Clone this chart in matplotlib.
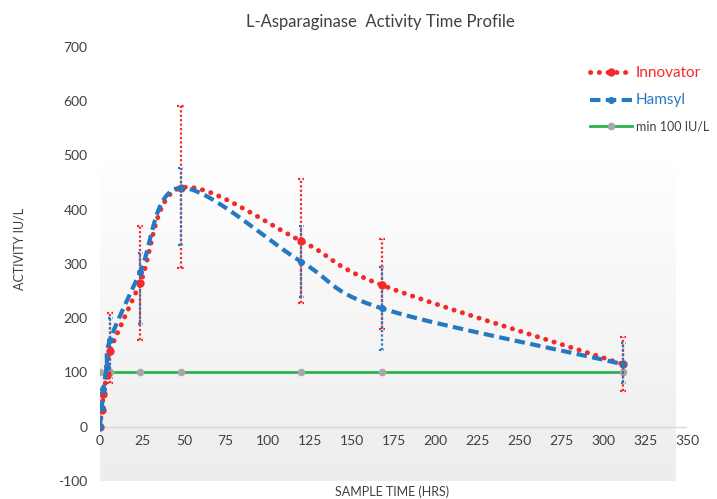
import matplotlib
matplotlib.use("Agg")
import matplotlib.pyplot as plt
import numpy as np
from matplotlib.colors import LinearSegmentedColormap
from matplotlib.lines import Line2D

plt.rcParams["font.family"] = ["Lato", "DejaVu Sans"]
plt.rcParams["axes.unicode_minus"] = False

# data
hours = [0, 1, 2, 4, 6, 24, 48, 120, 168, 312]
innovator = [0, 30, 60, 95, 140, 265, 440, 342, 261, 115]
hamsyl = [0, 35, 70, 110, 160, 285, 440, 304, 218, 115]

err_hours = [6, 24, 48, 120, 168, 312]
innov_lo = [80, 160, 293, 228, 180, 65]
innov_hi = [210, 370, 590, 456, 345, 165]
hams_lo = [90, 190, 335, 239, 141, 80]
hams_hi = [200, 320, 477, 370, 295, 155]

min_hours = [0, 6, 24, 48, 120, 168, 312]
min_level = [100, 100, 100, 100, 100, 100, 100]

RED = "#f42a2a"
BLUE = "#2479c2"
GREEN = "#2bb24c"
GREY = "#a8a8a8"
TXT = "#404040"


def smooth(xs, ys, n=30):
    """Catmull-Rom through the points, roughly what Excel's smoothed line does."""
    xs = np.asarray(xs, float) / 350.0
    ys = np.asarray(ys, float) / 800.0
    p = np.column_stack([xs, ys])
    p = np.vstack([p[0] * 2 - p[1], p, p[-1] * 2 - p[-2]])
    out = []
    for i in range(1, len(p) - 2):
        p0, p1, p2, p3 = p[i - 1], p[i], p[i + 1], p[i + 2]
        t = np.linspace(0, 1, n)[:, None]
        seg = 0.5 * ((2 * p1) + (-p0 + p2) * t
                     + (2 * p0 - 5 * p1 + 4 * p2 - p3) * t ** 2
                     + (-p0 + 3 * p1 - 3 * p2 + p3) * t ** 3)
        out.append(seg)
    out = np.vstack(out)
    return out[:, 0] * 350.0, out[:, 1] * 800.0


fig = plt.figure(figsize=(7.17, 4.99), dpi=100)
ax = fig.add_axes([100 / 717, 18 / 499, 587 / 717, 434.3 / 499])
ax.set_xlim(0, 350)
ax.set_ylim(-100, 700)

# plot area: white at the top fading to light grey
grad = np.linspace(1, 0, 256)[:, None]
grad = np.clip(grad / 0.75, 0, 1)
bg = LinearSegmentedColormap.from_list("bg", ["#ededed", "#ffffff"])
ax.imshow(grad, extent=[0, 343, -100, 700], aspect="auto", cmap=bg,
          vmin=0, vmax=1, zorder=0, origin="upper")

ax.axhline(0, color="#d9d9d9", lw=1, zorder=1)

# min line
ax.plot(min_hours, min_level, color=GREEN, lw=2, marker="o", ms=4.5,
        mfc=GREY, mec=GREY, zorder=2)

# error bars
for x, lo, hi in zip(err_hours, innov_lo, innov_hi):
    ax.plot([x, x], [lo, hi], color=RED, lw=1.6, ls=(0, (1, 1)), zorder=3)
    for y in (lo, hi):
        ax.plot([x - 1.8, x + 1.8], [y, y], color=RED, lw=1.6, ls=(0, (1, 1)), zorder=3)
for x, lo, hi in zip(err_hours, hams_lo, hams_hi):
    ax.plot([x, x], [lo, hi], color=BLUE, lw=1.6, ls=(0, (1, 1)), zorder=3)
    for y in (lo, hi):
        ax.plot([x - 1.5, x + 1.5], [y, y], color=BLUE, lw=1.6, ls=(0, (1, 1)), zorder=3)

sx, sy = smooth(hours, innovator)
ax.plot(sx, sy, color=RED, lw=3.5, ls=(0, (0.05, 1.75)), dash_capstyle="round", zorder=4)
ax.plot(hours, innovator, ls="none", marker="o", ms=5, color=RED, zorder=4)
sx, sy = smooth(hours, hamsyl)
ax.plot(sx, sy, color=BLUE, lw=3.0, ls=(0, (2.5, 1.3)), zorder=5)
ax.plot(hours, hamsyl, ls="none", marker="o", ms=4, color=BLUE, zorder=5)

for s in ax.spines.values():
    s.set_visible(False)
ax.spines["bottom"].set_position(("data", 0))
ax.set_xticks(np.arange(0, 351, 25))
ax.set_yticks(np.arange(-100, 701, 100))
ax.tick_params(length=0, labelsize=10, colors=TXT)
ax.tick_params(axis="x", pad=6)
ax.tick_params(axis="y", pad=9)

fig.text(380 / 717, 1 - 22 / 499, "L-Asparaginase  Activity Time Profile",
         ha="center", va="center", fontsize=12, color=TXT)
fig.text(20 / 717, 1 - 249 / 499, "ACTIVITY IU/L", rotation=90,
         ha="center", va="center", fontsize=9, color=TXT)
fig.text(392 / 717, 1 - 492 / 499, "SAMPLE TIME (HRS)", ha="center", va="center",
         fontsize=9, color=TXT)

handles = [
    Line2D([], [], color=RED, lw=3.5, ls=(0, (0.05, 1.75)), dash_capstyle="round",
           marker="o", ms=5),
    Line2D([], [], color=BLUE, lw=3.0, ls=(0, (2.5, 1.3)), marker="o", ms=4),
    Line2D([], [], color=GREEN, lw=2, marker="o", ms=4.5, mfc=GREY, mec=GREY),
]
leg = ax.legend(handles, ["Innovator", "Hamsyl", "min 100 IU/L"],
                loc="upper left", bbox_to_anchor=(0.835, 0.955),
                frameon=False, handlelength=3.0, labelspacing=0.95,
                handletextpad=0.3, borderpad=0, borderaxespad=0)
sizes = [11, 11, 9]
colors = [RED, BLUE, TXT]
for t, fs, c in zip(leg.get_texts(), sizes, colors):
    t.set_fontsize(fs)
    t.set_color(c)

fig.savefig("out.png", dpi=100)
